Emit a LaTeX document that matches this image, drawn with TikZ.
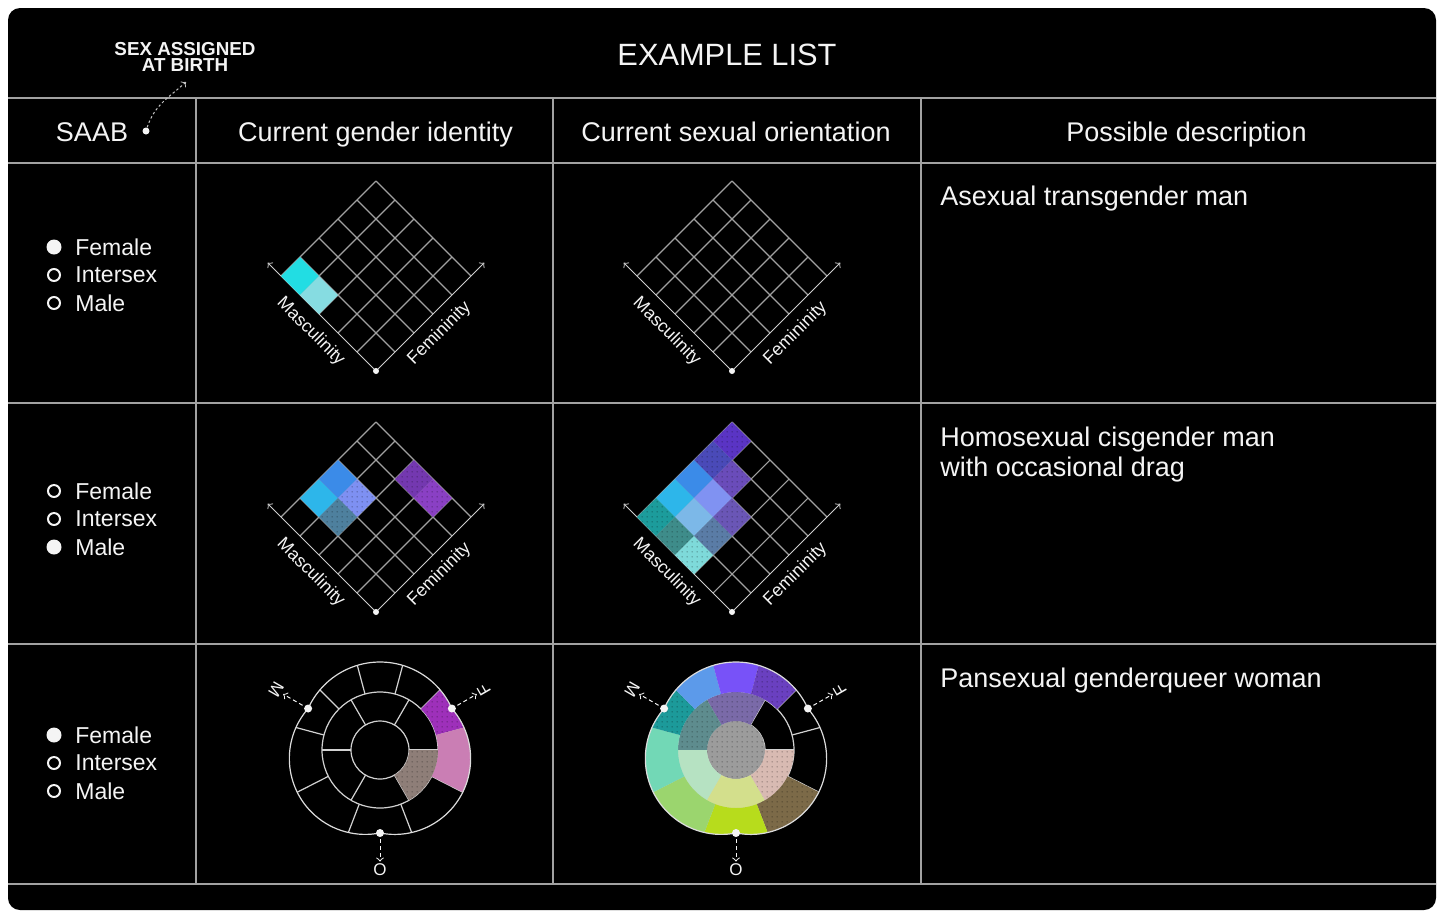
\documentclass[tikz,border=0pt]{standalone}
\usepackage{fontspec}
\setmainfont{Liberation Sans}
\usetikzlibrary{patterns}

\pgfdeclarepatternformonly{finedots}{\pgfpointorigin}{\pgfpoint{2.5pt}{2.5pt}}{\pgfpoint{2.5pt}{2.5pt}}{%
  \pgfpathcircle{\pgfpoint{1.25pt}{1.25pt}}{0.42pt}\pgfusepath{fill}}

\definecolor{ink}{HTML}{F4F4F4}
\definecolor{rulegray}{HTML}{A2A2A2}
\definecolor{gridgray}{HTML}{A0A0A0}
\definecolor{wheelgray}{HTML}{D2D2D2}
\definecolor{cyanA}{HTML}{22DDE3}
\definecolor{cyanB}{HTML}{86DCE1}
\definecolor{skyA}{HTML}{2DB6EA}
\definecolor{blueA}{HTML}{3B8BE8}
\definecolor{periA}{HTML}{7E90F2}
\definecolor{steelA}{HTML}{4E809E}
\definecolor{plumA}{HTML}{7438B0}
\definecolor{plumB}{HTML}{8A40C4}
\definecolor{violA}{HTML}{5A34C4}
\definecolor{indiA}{HTML}{4A4AB8}
\definecolor{lavA}{HTML}{6A4CBA}
\definecolor{periB}{HTML}{8092F2}
\definecolor{lavB}{HTML}{6A56B6}
\definecolor{skyB}{HTML}{7CB8E8}
\definecolor{steelB}{HTML}{5A7CA6}
\definecolor{tealA}{HTML}{1C9C9C}
\definecolor{tealB}{HTML}{3E8C8A}
\definecolor{aquaA}{HTML}{7EDADA}
\definecolor{orchidA}{HTML}{9E30BA}
\definecolor{pinkA}{HTML}{CA7EB4}
\definecolor{taupeA}{HTML}{8E7E78}
\definecolor{greyA}{HTML}{9C9C9C}
\definecolor{mauveA}{HTML}{7A6AA8}
\definecolor{slateA}{HTML}{5E8C8E}
\definecolor{mintB}{HTML}{B6E2C2}
\definecolor{strawA}{HTML}{D3DF8C}
\definecolor{blushA}{HTML}{D8BAB2}
\definecolor{umberA}{HTML}{7C6A48}
\definecolor{limeA}{HTML}{B7DC1C}
\definecolor{leafA}{HTML}{9BD56E}
\definecolor{mintA}{HTML}{72D8B6}
\definecolor{tealC}{HTML}{1C9A9A}
\definecolor{azureA}{HTML}{5C9AEA}
\definecolor{violB}{HTML}{7852F8}
\definecolor{grapeA}{HTML}{6A40C0}

\tikzset{
  tablerule/.style={draw=rulegray, line width=0.7pt},
  gridline/.style={draw=gridgray, line width=0.55pt},
  axisline/.style={draw=ink!85!black, line width=0.5pt, ->},
  wheelline/.style={draw=wheelgray, line width=0.6pt},
  knob/.style={circle, fill=ink, minimum size=4pt, inner sep=0pt},
  dotfill/.style={preaction={fill=#1}, pattern=finedots, pattern color=#1!60!black},
  radio on/.style={circle, fill=ink, minimum size=7.5pt, inner sep=0pt},
  radio off/.style={circle, draw=ink, line width=1pt, minimum size=6pt, inner sep=0pt},
  radiotext/.style={text=ink, inner sep=0pt, font=\fontsize{11.5}{13}\selectfont},
  headtext/.style={text=ink, inner sep=0pt, font=\fontsize{13.5}{15}\selectfont},
  desctext/.style={text=ink, inner sep=0pt, align=left, font=\fontsize{13.5}{15}\selectfont},
  tagtext/.style={text=ink, inner sep=0pt, align=center, font=\bfseries\fontsize{9.4}{8}\selectfont},
  axislabel/.style={text=ink, inner sep=0pt, font=\fontsize{8.9}{10}\selectfont},
  notchlabel/.style={text=ink, inner sep=1pt, font=\fontsize{8.5}{10}\selectfont},
  notcharrow/.style={draw=ink, line width=0.5pt, dash pattern=on 2pt off 1.5pt, ->, shorten <=1pt},
  hintarrow/.style={draw=ink!80!black, line width=0.5pt, dash pattern=on 1.2pt off 1.2pt, ->}
}

\newcommand{\spectrum}[3]{%
  \begin{scope}[shift={(#1,#2)}, rotate=45, x=13.435pt, y=13.435pt]
    \foreach \i in {1,...,5} {
      \draw[gridline] (\i,0) -- (\i,5);
      \draw[gridline] (0,\i) -- (5,\i);
    }
    \draw[axisline] (0,0) -- (0,5.7);
    \draw[axisline] (0,0) -- (5.7,0);
    #3
    \node[axislabel, rotate=-45] at (-0.68,2.76) {Masculinity};
    \node[axislabel, rotate=45] at (2.66,-0.68) {Femininity};
    \node[knob, minimum size=3pt] at (0,0) {};
  \end{scope}
}

\newcommand{\blobshape}{(30:83) arc[start angle=24.2, end angle=155.8, radius=78.8]
  arc[start angle=138.8, end angle=281.2, radius=75.9]
  arc[start angle=258.8, end angle=401.2, radius=75.9] -- cycle}

\newcommand{\wedgefill}[5]{%
  \path[#1] (#4:#2) arc[start angle=#4, end angle=#5, radius=#2]
    -- (#5:#3) arc[start angle=#5, end angle=#4, radius=#3] -- cycle;}

\newcommand{\wheel}[4]{%
  \begin{scope}[shift={(#1,#2)}]
    \begin{scope}
      \clip \blobshape;
      \foreach \a in {15,45,75,105,135,165,207,249,291,333}
        \draw[wheelline] (\a:58) -- (\a:100);
    \end{scope}
    \foreach \a in {0,60,...,300}
      \draw[wheelline] (\a:29) -- (\a:58);
    \draw[wheelline] (0,0) circle[radius=29] (0,0) circle[radius=58];
    \begin{scope}
      \clip \blobshape;
      #3
    \end{scope}
    \draw[wheelline, draw=ink!90!black] \blobshape;
    \node[knob] (M#4) at (150:83) {};
    \node[knob] (F#4) at (30:83) {};
    \node[knob] (O#4) at (270:83) {};
    \node[notchlabel, rotate=-120] (Mt#4) at (150:120) {M};
    \node[notchlabel, rotate=120] (Ft#4) at (30:120) {F};
    \node[notchlabel] (Ot#4) at (270:120) {O};
    \draw[notcharrow] (M#4) -- (Mt#4);
    \draw[notcharrow] (F#4) -- (Ft#4);
    \draw[notcharrow] (O#4) -- (Ot#4);
  \end{scope}
}

\begin{document}
\begin{tikzpicture}[x=0.5pt, y=0.5pt]
\useasboundingbox (0,0) rectangle (1444,-918);
\fill[white] (0,0) rectangle (1444,-918);
\fill[black, rounded corners=6pt] (8,-8) rectangle (1436,-910);

\foreach \y in {98,163,403,644,884}
  \draw[tablerule] (8,-\y) -- (1436,-\y);
\foreach \x in {196,553,921}
  \draw[tablerule] (\x,-98) -- (\x,-884);

\node[headtext, anchor=base, font=\fontsize{15.4}{18}\selectfont] (title) at (727,-65) {EXAMPLE LIST};
\node[tagtext] (sab) at (185,-57) {SEX ASSIGNED\\AT BIRTH};
\node[headtext, anchor=base] (saab) at (92,-141.5) {SAAB};
\node[knob, minimum size=3.5pt] (saabdot) at (146,-131) {};
\coordinate (saabtip) at (186,-82);
\draw[hintarrow] (saabdot) to[out=72,in=222] (saabtip);
\node[headtext, anchor=base] (hgender) at (375.5,-141.5) {Current gender identity};
\node[headtext, anchor=base] (horient) at (736,-141.5) {Current sexual orientation};
\node[headtext, anchor=base] (hdesc) at (1186.5,-141.5) {Possible description};

\foreach \top/\pick [count=\r] in {247/1,491/3,735/1}
  \foreach \name [count=\k] in {Female,Intersex,Male} {
    \ifnum\k=\pick
      \node[radio on] (r\r\k) at (54,{-\top-28*(\k-1)}) {};
    \else
      \node[radio off] (r\r\k) at (54,{-\top-28*(\k-1)}) {};
    \fi
    \node[radiotext, anchor=west] at (75,{-\top-28*(\k-1)}) {\name};
  }

\node[desctext, anchor=base west] (d1) at (940,-205.5) {Asexual transgender man};
\node[desctext, anchor=north west] (d2) at (940,-426.5) {Homosexual cisgender man\\with occasional drag};
\node[desctext, anchor=base west] (d3) at (940,-687.5) {Pansexual genderqueer woman};

\spectrum{376}{-371}{%
  \fill[cyanA] (0,4) rectangle ++(1,1);
  \fill[cyanB] (0,3) rectangle ++(1,1);
}
\spectrum{732}{-371}{}
\spectrum{376}{-612}{%
  \fill[skyA] (1,4) rectangle ++(1,1);
  \fill[blueA] (2,4) rectangle ++(1,1);
  \path[dotfill=periA] (2,3) rectangle ++(1,1);
  \path[dotfill=steelA] (1,3) rectangle ++(1,1);
  \path[dotfill=plumA] (4,2) rectangle ++(1,1);
  \path[dotfill=plumB] (4,1) rectangle ++(1,1);
}
\spectrum{732}{-612}{%
  \path[dotfill=violA] (4,4) rectangle ++(1,1);
  \path[dotfill=indiA] (3,4) rectangle ++(1,1);
  \path[dotfill=lavA] (3,3) rectangle ++(1,1);
  \fill[blueA] (2,4) rectangle ++(1,1);
  \fill[periB] (2,3) rectangle ++(1,1);
  \path[dotfill=lavB] (2,2) rectangle ++(1,1);
  \fill[skyA] (1,4) rectangle ++(1,1);
  \fill[skyB] (1,3) rectangle ++(1,1);
  \path[dotfill=steelB] (1,2) rectangle ++(1,1);
  \path[dotfill=tealA] (0,4) rectangle ++(1,1);
  \path[dotfill=tealB] (0,3) rectangle ++(1,1);
  \path[dotfill=aquaA] (0,2) rectangle ++(1,1);
}

\wheel{380}{-750}{%
  \wedgefill{dotfill=orchidA}{58}{100}{15}{45}
  \wedgefill{fill=pinkA}{58}{100}{-27}{15}
  \wedgefill{dotfill=taupeA}{29}{58}{-60}{0}
}{a}
\wheel{736}{-750}{%
  \path[dotfill=greyA] (0,0) circle[radius=29];
  \wedgefill{dotfill=mauveA}{29}{58}{60}{120}
  \wedgefill{dotfill=slateA}{29}{58}{120}{180}
  \wedgefill{fill=mintB}{29}{58}{180}{240}
  \wedgefill{fill=strawA}{29}{58}{240}{300}
  \wedgefill{dotfill=blushA}{29}{58}{300}{360}
  \wedgefill{dotfill=umberA}{58}{100}{291}{333}
  \wedgefill{fill=limeA}{58}{100}{249}{291}
  \wedgefill{fill=leafA}{58}{100}{207}{249}
  \wedgefill{fill=mintA}{58}{100}{165}{207}
  \wedgefill{dotfill=tealC}{58}{100}{135}{165}
  \wedgefill{fill=azureA}{58}{100}{105}{135}
  \wedgefill{fill=violB}{58}{100}{75}{105}
  \wedgefill{dotfill=grapeA}{58}{100}{45}{75}
}{b}
\end{tikzpicture}
\end{document}
